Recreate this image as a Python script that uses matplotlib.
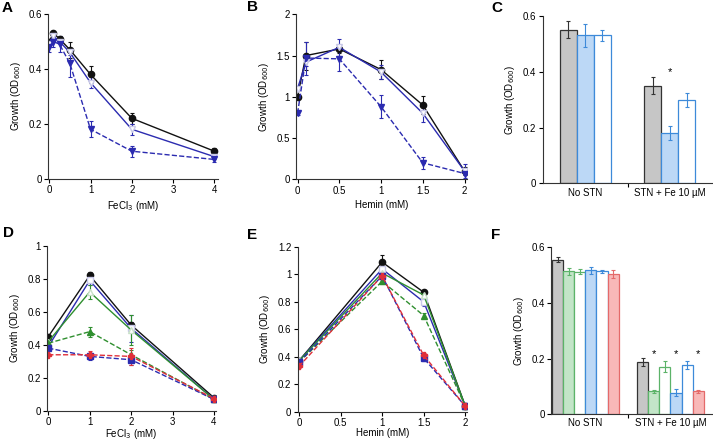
import matplotlib
matplotlib.use('Agg')
import matplotlib.pyplot as plt
import matplotlib.ticker as ticker

plt.rcParams['font.family'] = ['Liberation Sans', 'DejaVu Sans']
plt.rcParams['font.size'] = 7

# ---- panel A: FeCl3 (three strains)
a_x = [0, 0.1, 0.25, 0.5, 1, 2, 4]
a_wt = [0.50, 0.53, 0.51, 0.47, 0.38, 0.22, 0.10]
a_wt_err = [0.01, 0.01, 0.01, 0.03, 0.03, 0.02, 0.01]
a_open = [0.49, 0.52, 0.50, 0.46, 0.35, 0.18, 0.08]
a_open_err = [0.01, 0.01, 0.01, 0.01, 0.02, 0.02, 0.01]
a_mut = [0.48, 0.50, 0.49, 0.42, 0.18, 0.10, 0.07]
a_mut_err = [0.02, 0.02, 0.03, 0.05, 0.03, 0.02, 0.01]

# ---- panel B: hemin (three strains)
b_x = [0, 0.1, 0.5, 1, 1.5, 2]
b_wt = [1.00, 1.50, 1.58, 1.33, 0.90, 0.10]
b_wt_err = [0.02, 0.17, 0.05, 0.12, 0.11, 0.05]
b_open = [1.10, 1.42, 1.60, 1.30, 0.80, 0.10]
b_open_err = [0.02, 0.05, 0.10, 0.08, 0.10, 0.08]
b_mut = [0.80, 1.47, 1.46, 0.88, 0.20, 0.07]
b_mut_err = [0.02, 0.20, 0.15, 0.14, 0.07, 0.02]

# ---- panel C: bars
c_groups = ['No STN', 'STN + Fe 10 µM']
c_gray = [0.55, 0.35]
c_gray_err = [0.03, 0.03]
c_blue = [0.53, 0.18]
c_blue_err = [0.04, 0.025]
c_white = [0.53, 0.30]
c_white_err = [0.02, 0.025]

# ---- panel D: FeCl3 (six strains)
d_x = [0, 1, 2, 4]
d_wt = [0.45, 0.82, 0.52, 0.08]
d_wt_err = [0.01, 0.02, 0.02, 0.01]
d_blue_open = [0.39, 0.79, 0.50, 0.07]
d_blue_open_err = [0.01, 0.03, 0.08, 0.01]
d_green_open = [0.42, 0.72, 0.49, 0.07]
d_green_open_err = [0.01, 0.04, 0.09, 0.01]
d_green = [0.41, 0.48, 0.34, 0.07]
d_green_err = [0.01, 0.03, 0.03, 0.01]
d_blue = [0.38, 0.33, 0.31, 0.07]
d_blue_err = [0.01, 0.02, 0.03, 0.01]
d_red = [0.34, 0.34, 0.33, 0.075]
d_red_err = [0.01, 0.02, 0.05, 0.01]

# ---- panel E: hemin (six strains)
e_x = [0, 1, 1.5, 2]
e_wt = [0.37, 1.09, 0.87, 0.04]
e_wt_err = [0.01, 0.05, 0.02, 0.01]
e_blue_open = [0.37, 1.04, 0.80, 0.04]
e_blue_open_err = [0.01, 0.02, 0.03, 0.01]
e_green_open = [0.37, 1.01, 0.85, 0.04]
e_green_open_err = [0.01, 0.02, 0.03, 0.01]
e_green = [0.36, 0.95, 0.70, 0.04]
e_green_err = [0.01, 0.02, 0.02, 0.01]
e_blue = [0.36, 0.99, 0.39, 0.04]
e_blue_err = [0.01, 0.02, 0.02, 0.01]
e_red = [0.33, 0.99, 0.41, 0.04]
e_red_err = [0.01, 0.02, 0.02, 0.01]

# ---- panel F: bars (six strains)
f_groups = ['No STN', 'STN + Fe 10 µM']
f_vals = [
    [0.555, 0.187],   # gray
    [0.513, 0.083],   # green filled
    [0.512, 0.170],   # green open
    [0.516, 0.078],   # blue filled
    [0.513, 0.177],   # blue open
    [0.503, 0.083],   # red filled
]
f_errs = [
    [0.010, 0.015],
    [0.012, 0.005],
    [0.008, 0.020],
    [0.012, 0.012],
    [0.005, 0.015],
    [0.015, 0.005],
]

BLACK = '#111111'
BLUE = '#2b2bb0'
GREEN = '#2f8f2f'
RED = '#e0303a'
BAR_BLUE_EDGE = '#3d8ad9'
BAR_BLUE_FILL = '#bcd8f6'
BAR_GREEN_EDGE = '#5cb369'
BAR_GREEN_FILL = '#c3e5c8'
BAR_RED_EDGE = '#e46a6a'
BAR_RED_FILL = '#f8b8b8'
BAR_GRAY = '#c6c6c6'

fig = plt.figure(figsize=(7.13, 4.4), dpi=100)

fmt = ticker.FuncFormatter(lambda v, p: '%g' % round(v, 3))
ylab = 'Growth (OD$_{600}$)'


def style(ax):
    ax.spines['top'].set_visible(False)
    ax.spines['right'].set_visible(False)
    ax.spines['left'].set_color('#333333')
    ax.spines['bottom'].set_color('#333333')
    ax.tick_params(direction='out', length=3, width=0.8, labelsize=7, pad=1.5)
    ax.yaxis.set_major_formatter(fmt)
    ax.xaxis.set_major_formatter(fmt)
    ax.set_ylabel(ylab, fontsize=7, labelpad=4)


def line(ax, x, y, err, color, ls, marker, mfc, mec, ms=4.5):
    ax.errorbar(x, y, yerr=err, color=color, ls=ls, lw=1.0, marker=marker,
                mfc=mfc, mec=mec, ms=ms, capsize=1.5, elinewidth=0.8, capthick=0.8)


# A
ax = fig.add_axes([0.0673, 0.594, 0.238, 0.374])
line(ax, a_x, a_wt, a_wt_err, BLACK, '-', 'o', BLACK, BLACK)
line(ax, a_x, a_open, a_open_err, BLUE, '-', 'v', 'white', '#c8c8e8')
line(ax, a_x, a_mut, a_mut_err, BLUE, '--', 'v', BLUE, BLUE)
ax.set_xlim(-0.03, 4.08)
ax.set_ylim(0, 0.6)
ax.set_xticks([0, 1, 2, 3, 4])
ax.set_yticks([0, 0.2, 0.4, 0.6])
style(ax)
ax.set_xlabel('FeCl$_3$ (mM)', fontsize=7, labelpad=3)

# B
ax = fig.add_axes([0.415, 0.5925, 0.24, 0.375])
line(ax, b_x, b_wt, b_wt_err, BLACK, '-', 'o', BLACK, BLACK)
line(ax, b_x, b_open, b_open_err, BLUE, '-', 'v', 'white', '#c8c8e8')
line(ax, b_x, b_mut, b_mut_err, BLUE, '--', 'v', BLUE, BLUE)
ax.set_xlim(-0.02, 2.03)
ax.set_ylim(0, 2)
ax.set_xticks([0, 0.5, 1, 1.5, 2])
ax.set_yticks([0, 0.5, 1, 1.5, 2])
style(ax)
ax.set_xlabel('Hemin (mM)', fontsize=7, labelpad=3)

# C
ax = fig.add_axes([0.761, 0.583, 0.237, 0.381])
w = 0.2
gx = [0, 1]
ax.bar([g - w for g in gx], c_gray, w, yerr=c_gray_err, color=BAR_GRAY, edgecolor='#333333',
       lw=0.9, error_kw=dict(ecolor='#333333', elinewidth=0.8, capsize=1.5, capthick=0.8))
ax.bar(gx, c_blue, w, yerr=c_blue_err, color=BAR_BLUE_FILL, edgecolor=BAR_BLUE_EDGE,
       lw=0.9, error_kw=dict(ecolor=BAR_BLUE_EDGE, elinewidth=0.8, capsize=1.5, capthick=0.8))
ax.bar([g + w for g in gx], c_white, w, yerr=c_white_err, color='white', edgecolor=BAR_BLUE_EDGE,
       lw=0.9, error_kw=dict(ecolor=BAR_BLUE_EDGE, elinewidth=0.8, capsize=1.5, capthick=0.8))
ax.text(1, 0.40, '*', ha='center', va='center', fontsize=8)
ax.set_xlim(-0.5, 1.49)
ax.set_ylim(0, 0.6)
ax.set_yticks([0, 0.2, 0.4, 0.6])
style(ax)
ax.set_xticks(gx)
ax.set_xticklabels(c_groups)
ax.tick_params(axis='x', which='major', length=0, pad=3)
ax.set_xticks([0.5], minor=True)
ax.tick_params(axis='x', which='minor', direction='out', length=3, width=0.8)

# D
ax = fig.add_axes([0.066, 0.066, 0.237, 0.3756])
line(ax, d_x, d_wt, d_wt_err, BLACK, '-', 'o', BLACK, BLACK)
line(ax, d_x, d_blue_open, d_blue_open_err, BLUE, '-', 's', 'white', '#c8c8e8')
line(ax, d_x, d_green_open, d_green_open_err, GREEN, '-', '^', 'white', '#c8e0c8')
line(ax, d_x, d_green, d_green_err, GREEN, '--', '^', GREEN, GREEN)
line(ax, d_x, d_blue, d_blue_err, BLUE, '--', 's', BLUE, BLUE)
line(ax, d_x, d_red, d_red_err, RED, '--', 'P', RED, RED)
ax.set_xlim(-0.03, 4.05)
ax.set_ylim(0, 1)
ax.set_xticks([0, 1, 2, 3, 4])
ax.set_yticks([0, 0.2, 0.4, 0.6, 0.8, 1])
style(ax)
ax.set_xlabel('FeCl$_3$ (mM)', fontsize=7, labelpad=0)

# E
ax = fig.add_axes([0.4175, 0.0643, 0.2375, 0.3743])
line(ax, e_x, e_wt, e_wt_err, BLACK, '-', 'o', BLACK, BLACK)
line(ax, e_x, e_blue_open, e_blue_open_err, BLUE, '-', 's', 'white', '#c8c8e8')
line(ax, e_x, e_green_open, e_green_open_err, GREEN, '-', '^', 'white', '#c8e0c8')
line(ax, e_x, e_green, e_green_err, GREEN, '--', '^', GREEN, GREEN)
line(ax, e_x, e_blue, e_blue_err, BLUE, '--', 's', BLUE, BLUE)
line(ax, e_x, e_red, e_red_err, RED, '--', 'P', RED, RED)
ax.set_xlim(-0.015, 2.02)
ax.set_ylim(0, 1.2)
ax.set_xticks([0, 0.5, 1, 1.5, 2])
ax.set_yticks([0, 0.2, 0.4, 0.6, 0.8, 1, 1.2])
style(ax)
ax.set_xlabel('Hemin (mM)', fontsize=7, labelpad=0)

# F
ax = fig.add_axes([0.7728, 0.0584, 0.2254, 0.3802])
fw = 0.13
f_fill = [BAR_GRAY, BAR_GREEN_FILL, 'white', BAR_BLUE_FILL, 'white', BAR_RED_FILL]
f_edge = ['#333333', BAR_GREEN_EDGE, BAR_GREEN_EDGE, BAR_BLUE_EDGE, BAR_BLUE_EDGE, BAR_RED_EDGE]
for i in range(6):
    off = (i - 2.5) * fw
    ax.bar([g + off for g in gx], f_vals[i], fw, yerr=f_errs[i], color=f_fill[i], edgecolor=f_edge[i],
           lw=0.9, error_kw=dict(ecolor=f_edge[i], elinewidth=0.8, capsize=1.5, capthick=0.8))
for i in [1, 3, 5]:
    ax.text(1 + (i - 2.5) * fw, 0.215, '*', ha='center', va='center', fontsize=8)
ax.set_xlim(-0.405, 1.485)
ax.set_ylim(0, 0.6)
ax.set_yticks([0, 0.2, 0.4, 0.6])
style(ax)
ax.set_xticks(gx)
ax.set_xticklabels(f_groups)
ax.tick_params(axis='x', which='major', length=0, pad=3)
ax.set_xticks([0.5], minor=True)
ax.tick_params(axis='x', which='minor', direction='out', length=3, width=0.8)

# panel letters
for lab, px, py in [('A', 2, 8), ('B', 247, 7), ('C', 491, 8),
                    ('D', 3, 233), ('E', 247, 235), ('F', 491, 235)]:
    fig.text(px / 713, 1 - py / 440, lab, fontsize=11, fontweight='bold', va='center', ha='left')

fig.savefig('out.png', dpi=100)
